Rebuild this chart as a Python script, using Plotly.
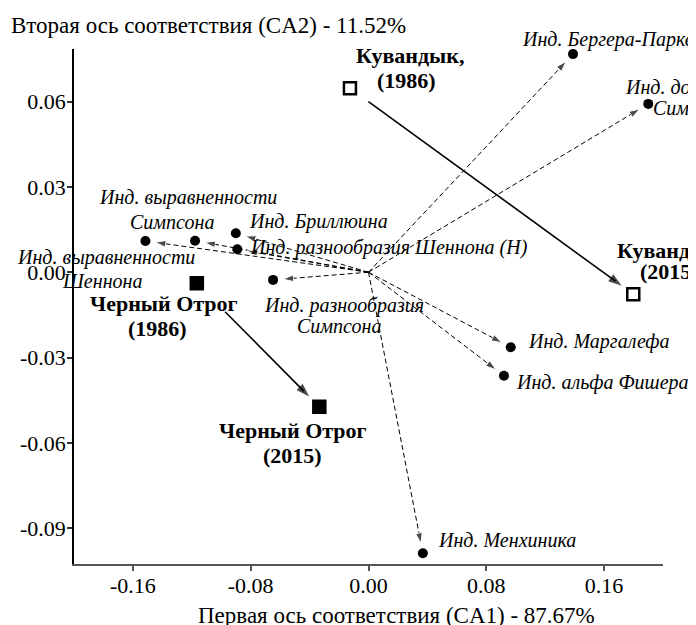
import plotly.graph_objects as go

# ---------------- data ----------------
index_names = [
    "Инд. Бергера-Паркера",
    "Инд. доминирования Симпсона",
    "Инд. Маргалефа",
    "Инд. альфа Фишера",
    "Инд. Менхиника",
    "Инд. выравненности Шеннона",
    "Инд. выравненности Симпсона",
    "Инд. Бриллюина",
    "Инд. разнообразия Шеннона (H)",
    "Инд. разнообразия Симпсона",
]
index_x = [0.1389, 0.1900, 0.0966, 0.0920, 0.0369, -0.1515, -0.1178, -0.0901, -0.0891, -0.0648]
index_y = [0.0767, 0.0592, -0.0264, -0.0364, -0.0988, 0.0110, 0.0111, 0.0137, 0.0081, -0.0027]

site_names = ["Кувандык", "Черный Отрог"]
site_x_1986 = [-0.0126, -0.1166]
site_y_1986 = [0.0647, -0.0039]
site_x_2015 = [0.1798, -0.0334]
site_y_2015 = [-0.0077, -0.0473]

origin_x, origin_y = 0.0, 0.0

x_ticks = [-0.16, -0.08, 0.0, 0.08, 0.16]
x_tick_labels = ["-0.16", "-0.08", "0.00", "0.08", "0.16"]
y_ticks = [-0.09, -0.06, -0.03, 0.0, 0.03, 0.06]
y_tick_labels = ["-0.09", "-0.06", "-0.03", "0.00", "0.03", "0.06"]

x_title = "Первая ось соответствия (CA1) - 87.67%"
y_title = "Вторая ось соответствия (CA2) - 11.52%"

# ---------------- styles / label placement ----------------
FONT = "Liberation Serif, Times New Roman, serif"
OFF = 8                      # page body margin
W, H = 696 - OFF, 625 - OFF
L, T = 72 - OFF, 49 - OFF
R = W - (663 - OFF)
B = H - (564 - OFF)

# (index of point, text, xshift, yshift, xanchor)
index_label_lines = [
    (0, "Инд. Бергера-Паркера", -53, 15, "left"),
    (1, "Инд. доминирования", -25, 16, "left"),
    (1, "Симпсона", 3, -4, "left"),
    (2, "Инд. Маргалефа", 15, 6, "left"),
    (3, "Инд. альфа Фишера", 10, -7, "left"),
    (4, "Инд. Менхиника", 13, 13, "left"),
    (5, "Инд. выравненности", -39, -17, "center"),
    (5, "Шеннона", -43, -40, "center"),
    (6, "Инд. выравненности", -7, 43, "center"),
    (6, "Симпсона", -23, 19, "center"),
    (7, "Инд. Бриллюина", 11, 12, "left"),
    (8, "Инд. разнообразия Шеннона (H)", 11, 2, "left"),
    (9, "Инд. разнообразия", 71, -26, "center"),
    (9, "Симпсона", 66, -46, "center"),
]
# (site index, which year, text, xshift, yshift, xanchor)
site_label_lines = [
    (0, 1986, "Кувандык,", 60, 33, "center"),
    (0, 1986, "(1986)", 57, 8, "center"),
    (0, 2015, "Кувандык", -18, 44, "left"),
    (0, 2015, "(2015)", 5, 23, "left"),
    (1, 1986, "Черный Отрог", -33, -20, "center"),
    (1, 1986, "(1986)", -39, -45, "center"),
    (1, 2015, "Черный Отрог", -26, -24, "center"),
    (1, 2015, "(2015)", -27, -49, "center"),
]
site_start_standoff = [21, 38]

fig = go.Figure()

# dashed arrows from origin to each index
for xi, yi in zip(index_x, index_y):
    fig.add_trace(go.Scatter(
        x=[origin_x, xi], y=[origin_y, yi],
        mode="lines+markers",
        line=dict(color="black", width=1, dash="5px,3px"),
        marker=dict(symbol=["circle", "arrow"], size=[0, 11], color="black",
                    angleref="previous", standoff=[0, 10]),
        hoverinfo="skip", showlegend=False,
    ))

# index points
fig.add_trace(go.Scatter(
    x=index_x, y=index_y, mode="markers",
    marker=dict(symbol="circle", size=10, color="black"),
    text=index_names, hoverinfo="text", showlegend=False,
))

# solid arrows between site years
for k in range(len(site_names)):
    fig.add_annotation(
        x=site_x_2015[k], y=site_y_2015[k], ax=site_x_1986[k], ay=site_y_1986[k],
        xref="x", yref="y", axref="x", ayref="y", text="",
        showarrow=True, arrowhead=0, arrowwidth=1.6, arrowcolor="black",
        standoff=22, startstandoff=site_start_standoff[k],
    )
    fig.add_trace(go.Scatter(
        x=[site_x_1986[k], site_x_2015[k]], y=[site_y_1986[k], site_y_2015[k]],
        mode="markers",
        marker=dict(symbol=["circle", "arrow"], size=[0, 16], color="black",
                    angleref="previous", standoff=[0, 13]),
        hoverinfo="skip", showlegend=False,
    ))

# site squares: Кувандык open, Черный Отрог filled
site_symbols = ["square-open", "square"]
for k in range(len(site_names)):
    fig.add_trace(go.Scatter(
        x=[site_x_1986[k], site_x_2015[k]], y=[site_y_1986[k], site_y_2015[k]],
        mode="markers",
        marker=dict(symbol=site_symbols[k], size=12, color="black",
                    line=dict(color="black", width=2.5)),
        text=[site_names[k] + " (1986)", site_names[k] + " (2015)"],
        hoverinfo="text", showlegend=False,
    ))

# index labels
for i, txt, dx, dy, xa in index_label_lines:
    fig.add_annotation(
        x=index_x[i], y=index_y[i], xref="x", yref="y", text=txt,
        showarrow=False, xanchor=xa, yanchor="middle", xshift=dx, yshift=dy,
        font=dict(family=FONT, size=20, color="black", style="italic"),
    )

# site labels
for k, yr, txt, dx, dy, xa in site_label_lines:
    sx = site_x_1986[k] if yr == 1986 else site_x_2015[k]
    sy = site_y_1986[k] if yr == 1986 else site_y_2015[k]
    fig.add_annotation(
        x=sx, y=sy, xref="x", yref="y", text="<b>" + txt + "</b>",
        showarrow=False, xanchor=xa, yanchor="middle", xshift=dx, yshift=dy,
        font=dict(family=FONT, size=22, color="black"),
    )

# x-axis title
fig.add_annotation(
    x=(396 - 72) / (663 - 72), y=0, xref="paper", yref="paper", text=x_title,
    showarrow=False, xanchor="center", yanchor="middle", yshift=-51,
    font=dict(family=FONT, size=23, color="black"),
)

fig.update_layout(
    width=W, height=H, autosize=False,
    margin=dict(l=L, r=R, t=T, b=B, pad=0),
    paper_bgcolor="white", plot_bgcolor="white",
    title=dict(text=y_title, x=(11 - OFF) / W, xanchor="left", y=1 - (25 - OFF) / H,
               yanchor="middle", xref="container", yref="container",
               font=dict(family=FONT, size=23, color="black")),
    font=dict(family=FONT, color="black"),
    xaxis=dict(range=[-0.2, 0.2], tickvals=x_ticks, ticktext=x_tick_labels,
               showgrid=False, zeroline=False, showline=True, linecolor="#555",
               linewidth=2, ticks="outside", ticklen=5, tickcolor="#555", tickwidth=1.5,
               ticklabelstandoff=-4,
               tickfont=dict(family=FONT, size=22, color="black")),
    yaxis=dict(range=[-0.1026, 0.0785], tickvals=y_ticks, ticktext=y_tick_labels,
               showgrid=False, zeroline=False, showline=True, linecolor="black",
               linewidth=1.5, ticks="outside", ticklen=5, tickcolor="#333", tickwidth=1.5,
               ticklabelstandoff=-3,
               tickfont=dict(family=FONT, size=22, color="black")),
)

fig.write_html("out.html")
